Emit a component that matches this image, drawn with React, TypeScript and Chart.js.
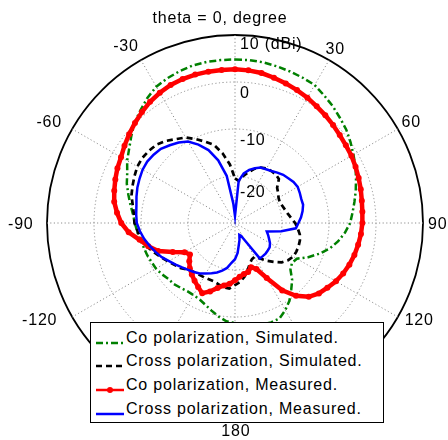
import React, { useEffect, useRef } from 'react';
import { Chart, registerables } from 'chart.js';

Chart.register(...registerables);

// Angle categories (degrees, clockwise from top; 180..355 correspond to -180..-5)
const ANGLES = [
  0, 5, 10, 15, 20, 25, 30, 35, 40, 45, 50, 55, 60, 65, 70, 75, 80, 85,
  90, 95, 100, 105, 110, 115, 120, 125, 130, 135, 140, 145, 150, 155, 160, 165, 170, 175,
  180, 185, 190, 195, 200, 205, 210, 215, 220, 225, 230, 235, 240, 245, 250, 255, 260, 265,
  270, 275, 280, 285, 290, 295, 300, 305, 310, 315, 320, 325, 330, 335, 340, 345, 350, 355,
];

// Co polarization, simulated (dBi)
const CO_SIM = [
  4.8, 4.8, 4.7, 4.5, 4.3, 4.1, 3.9, 3.1, 2.4, 1.6, 0.9, 0.0, -0.9, -1.7, -2.6, -3.4, -4.2, -4.9,
  -5.5, -6.5, -7.7, -9.1, -10.9, -12.8, -14.8, -15.2, -14.6, -12.8, -11.4, -9.8, -8.6, -7.6, -7.5, -7.7, -8.0, -8.4,
  -8.7, -9.0, -9.8, -10.7, -11.5, -12.1, -12.3, -12.3, -12.0, -11.6, -11.5, -11.0, -10.6, -10.4, -10.1, -9.9, -9.5, -9.1,
  -8.7, -8.2, -7.4, -6.5, -5.5, -4.7, -3.5, -2.5, -1.2, 0.2, 1.3, 2.5, 3.5, 4.0, 4.4, 4.7, 4.8, 4.8,
];

// Cross polarization, simulated (dBi)
const CROSS_SIM = [
  -20.5, -21.0, -19.8, -18.8, -17.7, -17.0, -16.6, -16.5, -16.5, -16.8, -18.3, -18.8, -19.3, -19.5, -19.3, -19.0, -18.6, -18.0,
  -17.2, -16.6, -16.0, -15.7, -15.6, -15.6, -15.7, -16.2, -17.0, -18.3, -19.5, -20.8, -21.7, -21.5, -20.8, -19.6, -18.4, -17.4,
  -16.8, -16.0, -16.1, -16.5, -16.8, -16.8, -16.7, -16.6, -16.4, -16.0, -15.0, -14.4, -13.6, -12.7, -11.7, -10.6, -9.8, -9.2,
  -8.6, -8.4, -7.9, -7.2, -6.8, -6.4, -6.0, -5.9, -6.1, -6.4, -7.2, -8.2, -9.0, -10.3, -11.6, -12.8, -15.0, -17.5,
];

// Co polarization, measured (dBi)
const CO_MEAS = [
  2.7, 2.6, 2.4, 2.0, 1.6, 1.2, 0.8, 0.3, -0.1, -0.5, -0.9, -1.2, -1.4, -1.7, -2.0, -2.3, -2.6, -2.8,
  -2.9, -3.1, -3.4, -3.7, -4.1, -4.6, -5.2, -6.0, -6.7, -7.8, -9.8, -12.5, -16.5, -19.2, -20.0, -19.2, -19.0, -18.5,
  -17.8, -17.0, -16.5, -15.7, -14.5, -13.5, -14.3, -15.0, -15.7, -16.4, -17.3, -18.3, -17.6, -15.4, -12.6, -10.9, -9.4, -7.3,
  -5.8, -4.8, -3.9, -3.4, -2.9, -2.4, -2.0, -1.3, -0.6, 0.1, 0.8, 1.5, 2.0, 2.4, 2.6, 2.7, 2.7, 2.7,
];

// Cross polarization, measured (dBi)
const CROSS_MEAS = [
  -28.5, -21.0, -19.3, -18.3, -17.6, -17.0, -16.8, -16.5, -16.0, -15.5, -15.2, -14.8, -14.6, -14.8, -15.0, -15.0, -15.4, -15.9,
  -16.5, -17.0, -20.0, -23.0, -22.5, -22.0, -21.4, -21.0, -20.9, -20.8, -20.8, -20.8, -25.5, -27.0, -27.3, -26.3, -25.3, -23.6,
  -22.3, -21.5, -20.3, -19.5, -18.8, -18.2, -17.6, -16.9, -16.4, -15.9, -15.3, -14.6, -13.8, -12.8, -12.0, -11.2, -10.4, -9.7,
  -9.1, -8.9, -8.7, -8.3, -7.9, -7.6, -7.3, -7.2, -7.4, -7.7, -8.4, -9.1, -10.0, -11.6, -13.5, -16.2, -19.8, -25.8,
];

const R_MIN = -30;
const R_MAX = 10;
const R_STEP = 10;

const RING_TICKS = [10, 0, -10, -20];
const RING_TEXT = ['10 (dBi)', '0', '-10', '-20'];

const ANGLE_TICKS = [-30, 30, -60, 60, -90, 90, -120, 120, 180];

const SERIES_NAMES = [
  'Co polarization, Simulated.',
  'Cross polarization, Simulated.',
  'Co polarization, Measured.',
  'Cross polarization, Measured.',
];

// ---- styling (not data) ----
const FONT_FAMILY = '"Liberation Sans", Arial, Helvetica, sans-serif';
const GREEN = '#008000';
const GRID_GRAY = '#8e8e8e';
const RING_LABEL_DY = [10, 12, 12, 17];
const ANGLE_LABEL_NUDGE: Record<number, [number, number]> = {
  [-30]: [-5.7, 2.3],
  [30]: [-3.2, 5.8],
  [-60]: [-6.7, 2.9],
  [60]: [-2.9, 2.9],
  [-90]: [-7.4, 1.8],
  [90]: [-4, 2],
  [-120]: [-16.2, -5.6],
  [120]: [5.1, -5.6],
  [180]: [0.8, 1.9],
};

const textPlugin = {
  id: 'polarText',
  beforeDatasetsDraw(chart: any) {
    const scale = chart.scales.r;
    const ctx = chart.ctx as CanvasRenderingContext2D;
    ctx.save();
    ctx.font = `16px ${FONT_FAMILY}`;
    (ctx as any).letterSpacing = '0.8px';
    ctx.fillStyle = '#000';
    ctx.textAlign = 'left';
    ctx.textBaseline = 'middle';
    RING_TICKS.forEach((v, i) => {
      const d = scale.getDistanceFromCenterForValue(v);
      ctx.fillText(RING_TEXT[i], scale.xCenter + 5, scale.yCenter - d + RING_LABEL_DY[i]);
    });
    ctx.textAlign = 'center';
    const n = chart.data.labels.length;
    ANGLE_TICKS.forEach((a) => {
      const deg = ((a % 360) + 360) % 360;
      const idx = (deg / 360) * n;
      const p = scale.getPointPosition(idx, scale.drawingArea * 1.1);
      const [nx, ny] = ANGLE_LABEL_NUDGE[a] || [0, 0];
      ctx.fillText(String(a), p.x + nx, p.y + ny);
    });
    ctx.restore();
  },
};

function LegendSample({ kind }: { kind: number }) {
  const y = 6;
  if (kind === 0)
    return (
      <svg width={30} height={12}>
        <line x1={1} y1={y} x2={29} y2={y} stroke={GREEN} strokeWidth={2.5} strokeDasharray="7 3 2 3" />
      </svg>
    );
  if (kind === 1)
    return (
      <svg width={30} height={12}>
        <line x1={1} y1={y} x2={29} y2={y} stroke="#000" strokeWidth={2.5} strokeDasharray="6 4" />
      </svg>
    );
  if (kind === 2)
    return (
      <svg width={30} height={12}>
        <line x1={1} y1={y} x2={29} y2={y} stroke="#ff0000" strokeWidth={2.5} />
        <circle cx={15} cy={y} r={3} fill="#ff0000" />
      </svg>
    );
  return (
    <svg width={30} height={12}>
      <line x1={1} y1={y} x2={29} y2={y} stroke="#0000ff" strokeWidth={2.5} />
    </svg>
  );
}

export default function App() {
  const ref = useRef<HTMLCanvasElement>(null);

  useEffect(() => {
    if (!ref.current) return;
    const chart = new Chart(ref.current, {
      type: 'radar',
      data: {
        labels: ANGLES,
        datasets: [
          {
            label: SERIES_NAMES[0],
            data: CO_SIM,
            borderColor: GREEN,
            backgroundColor: 'transparent',
            borderWidth: 2.5,
            borderDash: [7, 3, 2, 3],
            pointRadius: 0,
            fill: false,
            order: 3,
          },
          {
            label: SERIES_NAMES[1],
            data: CROSS_SIM,
            borderColor: '#000000',
            backgroundColor: 'transparent',
            borderWidth: 2.7,
            borderDash: [6, 4],
            pointRadius: 0,
            fill: false,
            order: 2,
          },
          {
            label: SERIES_NAMES[2],
            data: CO_MEAS,
            borderColor: '#ff0000',
            backgroundColor: '#ff0000',
            pointBackgroundColor: '#ff0000',
            pointBorderColor: '#ff0000',
            borderWidth: 4.5,
            pointRadius: 3,
            pointBorderWidth: 0,
            fill: false,
            order: 1,
          },
          {
            label: SERIES_NAMES[3],
            data: CROSS_MEAS,
            borderColor: '#0000ff',
            backgroundColor: 'transparent',
            borderWidth: 2.5,
            pointRadius: 0,
            fill: false,
            order: 0,
          },
        ],
      } as any,
      options: {
        animation: false,
        responsive: false,
        events: [],
        layout: { padding: { left: 47, top: 35, right: 25, bottom: 29 } },
        elements: { line: { tension: 0 } },
        plugins: {
          legend: { display: false },
          title: { display: false },
          tooltip: { enabled: false },
        },
        scales: {
          r: {
            min: R_MIN,
            max: R_MAX,
            ticks: { display: false, stepSize: R_STEP },
            pointLabels: { display: false },
            grid: {
              circular: true,
              color: (c: any) =>
                c.tick && c.tick.value === R_MAX
                  ? '#000000'
                  : c.tick && c.tick.value === R_MIN
                  ? 'rgba(0,0,0,0)'
                  : GRID_GRAY,
              lineWidth: (c: any) => (c.tick && c.tick.value === R_MAX ? 1.8 : 1),
            },
            border: {
              dash: (c: any) => (c.tick && c.tick.value === R_MAX ? [] : [1.2, 2.4]),
            },
            angleLines: {
              display: true,
              color: (c: any) => (ANGLES[c.index] % 30 === 0 ? GRID_GRAY : 'rgba(0,0,0,0)'),
              lineWidth: (c: any) => (ANGLES[c.index] % 30 === 0 ? 1 : 0),
              borderDash: [1.2, 2.4],
            },
          } as any,
        },
      },
      plugins: [textPlugin],
    });
    return () => chart.destroy();
  }, []);

  const rowCenters = [337.5, 361.4, 385.3, 409.2];

  return (
    <div
      style={{
        position: 'fixed',
        left: 0,
        top: 0,
        width: 448,
        height: 440,
        background: '#fff',
        fontFamily: FONT_FAMILY,
        fontSize: 16,
        color: '#000',
        letterSpacing: '0.8px',
        overflow: 'hidden',
      }}
    >
      <canvas ref={ref} width={448} height={440} style={{ position: 'absolute', left: 0, top: 0 }} />
      <div
        style={{
          position: 'absolute',
          left: 0,
          top: 7.5,
          width: 440,
          lineHeight: '20px',
          textAlign: 'center',
          whiteSpace: 'nowrap',
        }}
      >
        theta = 0, degree
      </div>
      <div
        style={{
          position: 'absolute',
          left: 90,
          top: 322,
          width: 294,
          height: 101,
          boxSizing: 'border-box',
          border: '1.5px solid #000',
          background: '#fff',
        }}
      />
      {SERIES_NAMES.map((name, i) => (
        <div
          key={name}
          style={{
            position: 'absolute',
            left: 95,
            top: rowCenters[i] - 12,
            height: 24,
            lineHeight: '24px',
            whiteSpace: 'nowrap',
            display: 'flex',
            alignItems: 'center',
          }}
        >
          <span style={{ display: 'inline-block', width: 30, height: 12, marginRight: 1 }}>
            <LegendSample kind={i} />
          </span>
          <span style={{ lineHeight: '24px' }}>{name}</span>
        </div>
      ))}
    </div>
  );
}
